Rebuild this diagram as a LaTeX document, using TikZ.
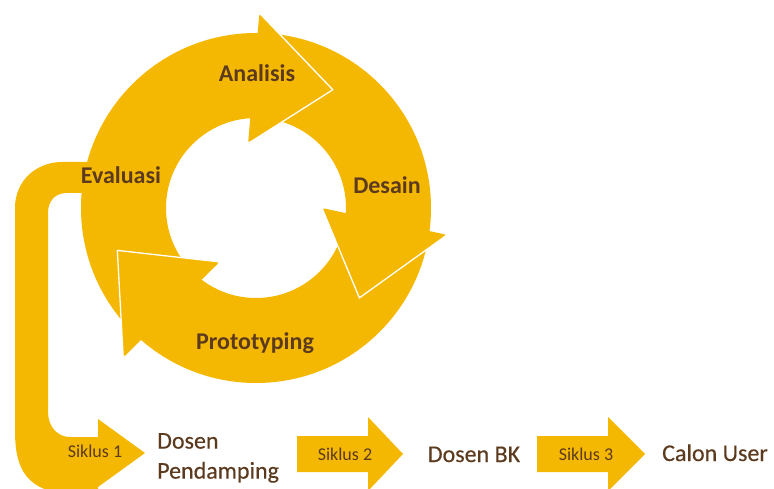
\documentclass[tikz,border=0pt]{standalone}
\usepackage{fontspec}
\setmainfont{Carlito}
\newfontfamily\heavyfont[FakeBold=0.3]{Carlito}
\usepackage{tikz}
\usetikzlibrary{calc}

\definecolor{gold}{RGB}{245,184,2}
\definecolor{bark}{RGB}{92,58,30}

\tikzset{
  cyc/.style={font=\fontsize{24}{28}\selectfont\bfseries, text=bark, inner sep=0pt, anchor=base},
  siklus/.style={font=\fontsize{18}{22}\selectfont, text=bark, inner sep=0pt, anchor=base},
  tahap/.style={font=\heavyfont\fontsize{24}{30}\selectfont, text=bark, inner sep=0pt, anchor=base},
  rim/.style={white, line width=1.3pt, line join=round}
}

\begin{document}
\begin{tikzpicture}[x=1pt,y=-1pt]
  \useasboundingbox (0,0) rectangle (774,489);
  \clip (0,0) rectangle (774,489);
  \coordinate (c) at (256,208);

  % bent arrow from the cycle down to Siklus 1
  \fill[gold] (130,162) -- (62,162) .. controls (37,162) and (15,180) .. (15,208)
    -- (15,430) .. controls (15,470) and (26,492) .. (75,495) -- (98,495)
    -- (98,487) -- (145,453) -- (98,419) -- (98,437) -- (70,437)
    .. controls (57,437) and (48,426) .. (48,412) -- (48,213)
    .. controls (48,201) and (55,193) .. (67,193) -- (130,193) -- cycle;

  % ring
  \fill[gold, even odd rule] (c) circle (175) (c) circle (90);

  % heads, angles clockwise since y points down
  \fill[gold, rounded corners=3pt, shift={(c)}] (-97:65) -- (-57:141) -- (-89:195) -- cycle;
  \draw[rim, shift={(c)}] (-97:65) -- (-57:141) -- (-89:195);

  \fill[gold, rounded corners=3pt, shift={(c)}] (0:66) -- (41:137) -- (8:193) -- cycle;
  \draw[rim, shift={(c)}] (0:66) -- (41:137) -- (8:193);

  \fill[gold, rounded corners=3pt, shift={(c)}] (124:65) -- (163:145) -- (131.6:200) -- cycle;
  \draw[rim, shift={(c)}] (124:65) -- (163:145) -- (131.6:200);

  % Siklus 2 and 3
  \fill[gold] (297,436) -- (368,436) -- (368,417) -- (403,454) -- (368,491) -- (368,472) -- (297,472) -- cycle;
  \fill[gold] (537,436) -- (608,436) -- (608,417) -- (645,454) -- (608,491) -- (608,472) -- (537,472) -- cycle;

  \node[cyc] (analisis) at (257,82) {Analisis};
  \node[cyc] (evaluasi) at (121,184) {Evaluasi};
  \node[cyc] (desain) at (387,194) {Desain};
  \node[cyc] (proto) at (255,349) {Prototyping};

  \node[siklus] (s1) at (95,457) {Siklus 1};
  \node[siklus] (s2) at (345,460) {Siklus 2};
  \node[siklus] (s3) at (586,460) {Siklus 3};

  \node[tahap, anchor=north west, align=left] (pendamping) at (157,433) {Dosen\\Pendamping};
  \node[tahap] (bk) at (474,462) {Dosen BK};
  \node[tahap, anchor=base west] (user) at (662,461) {Calon User};
\end{tikzpicture}
\end{document}
